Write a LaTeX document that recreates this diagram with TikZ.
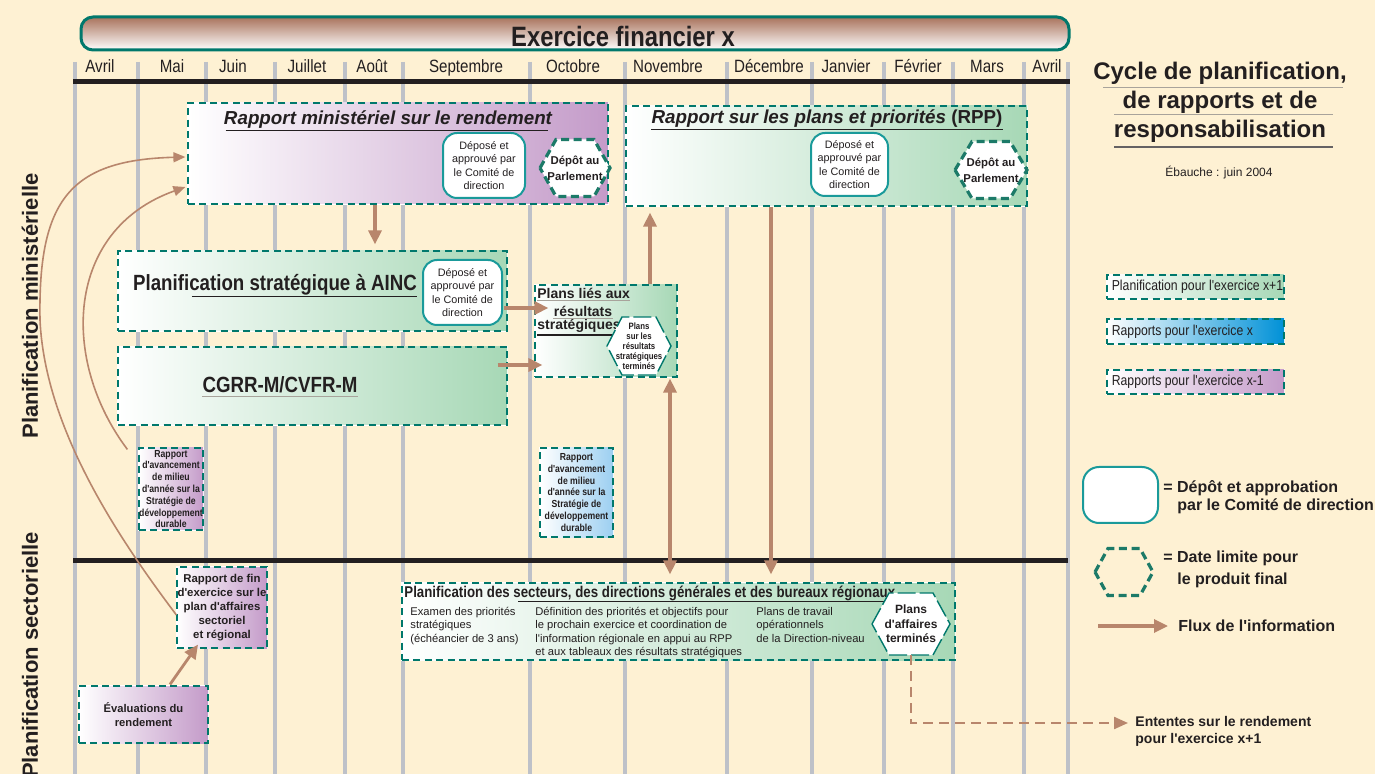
\documentclass[tikz,border=0pt]{standalone}
\usepackage{fontspec}
\setmainfont{Liberation Sans}[Ligatures=TeXOff]
\newfontfamily\cnd{Liberation Sans}[FakeStretch=0.85,Ligatures=TeXOff]
\usetikzlibrary{arrows.meta,calc}

\definecolor{bg}{HTML}{FEF1D3}
\definecolor{gridc}{HTML}{BEC1C8}
\definecolor{ink}{HTML}{231F20}
\definecolor{tealT}{HTML}{00786C}
\definecolor{tealR}{HTML}{1A9A9A}
\definecolor{tealH}{HTML}{1C7A68}
\definecolor{purp}{HTML}{C49BC9}
\definecolor{grn}{HTML}{A7D8B6}
\definecolor{lblue}{HTML}{9CCFF1}
\definecolor{sblue}{HTML}{0091D7}
\definecolor{brn}{HTML}{B8866C}
\definecolor{barbrn}{HTML}{A9735C}
\definecolor{ulgrey}{HTML}{A8A39B}

\newcommand\fs[2]{\fontsize{#1}{#2}\selectfont}
% flat-topped hexagon: style, centre, half width, half height, half width of top edge
\newcommand\hexpath[5]{%
  \path[#1] ($(#2)+(-#3,0)$) -- ($(#2)+(-#5,-#4)$) -- ($(#2)+(#5,-#4)$)
    -- ($(#2)+(#3,0)$) -- ($(#2)+(#5,#4)$) -- ($(#2)+(-#5,#4)$) -- cycle;}

\tikzset{
  gridline/.style={draw=gridc, line width=2.3pt},
  blackrule/.style={draw=ink, line width=2.5pt},
  dbox/.style={draw=tealT, line width=0.6pt, dash pattern=on 3.5pt off 2.2pt,
    preaction={draw=white, solid, line width=0.6pt}},
  boxP/.style={dbox, left color=white, right color=purp},
  boxG/.style={dbox, left color=white, right color=grn},
  boxB/.style={dbox, left color=white, right color=lblue},
  boxS/.style={dbox, left color=white, right color=sblue},
  depbox/.style={draw=tealR, line width=1pt, fill=white, rounded corners=7pt,
    align=center, font=\fs{5.4}{6.7}},
  hexA/.style={draw=tealH, line width=1.6pt, dash pattern=on 4pt off 2.3pt, fill=white},
  hexB/.style={draw=tealT, line width=0.7pt, dash pattern=on 9pt off 2pt, fill=white},
  flow/.style={draw=brn, line width=1.6pt, -{Triangle[length=7pt,width=6.5pt]}},
  flowthin/.style={draw=brn, line width=0.8pt, -{Triangle[length=6pt,width=5pt]}},
  flowdash/.style={draw=brn, line width=1.1pt, dash pattern=on 5pt off 3pt,
    -{Triangle[length=7pt,width=6pt]}},
  ulD/.style={draw=ink, line width=0.6pt},
  ulL/.style={draw=ulgrey, line width=0.5pt},
  month/.style={font=\cnd\fs{8.9}{10}, anchor=base},
}

\begin{document}
\begin{tikzpicture}[x=0.5pt,y=-0.5pt,every node/.style={inner sep=0pt, text=ink}]
\fill[bg] (0,0) rectangle (1375,774);
\useasboundingbox (0,0) rectangle (1375,774);

% month separators and the two rules
\foreach \gx in {75,138,206,275,345,403,530,625,727,812,884,953,1024,1068}
  \draw[gridline] (\gx,62) -- (\gx,774);
\draw[blackrule] (73,82) -- (1070,82);
\draw[blackrule] (73,560) -- (1068,560);

% fiscal year bar
\node[draw=tealT, line width=1.5pt, rounded corners=6pt, top color=barbrn, bottom color=white,
  minimum width=494pt, minimum height=16.5pt] (fy) at (575,33.5) {};
\node[font=\cnd\bfseries\fs{14}{16}] (fyt) at (623,37) {Exercice financier x};

% months
\foreach \mx/\mn in {100/Avril,172/Mai,233/Juin,307/Juillet,372/Août,466/Septembre,
  573/Octobre,668/Novembre,769/Décembre,846/Janvier,918/Février,987/Mars,1047/Avril}
  \node[month] (m\mx) at (\mx,73) {\mn};

% heading on the right
\node[font=\bfseries\fs{12}{14}] (ttl1) at (1220,73) {Cycle de planification,};
\node[font=\bfseries\fs{12}{14}] (ttl2) at (1220,102) {de rapports et de};
\node[font=\bfseries\fs{12}{14}] (ttl3) at (1220,131) {responsabilisation};
\draw[ulL] (1103,88) -- (1343,88);
\draw[ulL] (1114,115) -- (1333,115);
\draw[draw=ink!70, line width=1pt] (1114,147) -- (1333,147);
\node[font=\fs{6}{7}] (ebau) at (1219,173) {Ébauche : juin 2004};

% side labels
\node[rotate=90, font=\bfseries\fs{11}{13}] (lblM) at (30,306) {Planification ministérielle};
\node[rotate=90, font=\bfseries\fs{11}{13}] (lblS) at (30,655) {Planification sectorielle};

% Rapport ministériel sur le rendement
\node[boxP, minimum width=210pt, minimum height=50.5pt] (RMR) at (398,153.5) {};
\node[font=\bfseries\itshape\fs{9.4}{11}] (RMRt) at (388,120) {Rapport ministériel sur le rendement};
\draw[ulD] ($(RMRt.south west)+(2,1)$) -- ($(RMRt.south east)+(-4,1)$);
\node[depbox, minimum width=41pt, minimum height=32.5pt] (dep1) at (484,165.5)
  {Déposé et\\approuvé par\\le Comité de\\direction};
\coordinate (h1c) at (575,168);
\hexpath{hexA}{h1c}{35}{28.5}{19}
\node[font=\bfseries\fs{5.7}{8}, align=center, minimum width=35pt, minimum height=28.5pt] (h1) at (h1c)
  {Dépôt au\\Parlement};

% Rapport sur les plans et priorités
\node[boxG, minimum width=200.5pt, minimum height=50pt] (RPP) at (826.5,156) {};
\node[font=\bfseries\fs{9.4}{11}] (RPPt) at (827,119) {{\itshape Rapport sur les plans et priorités} (RPP)};
\draw[ulD] ($(RPPt.south west)+(0,1)$) -- ($(RPPt.south east)+(0,1)$);
\node[depbox, minimum width=38.5pt, minimum height=31.5pt] (dep2) at (849.5,164.5)
  {Déposé et\\approuvé par\\le Comité de\\direction};
\coordinate (h2c) at (991,170);
\hexpath{hexA}{h2c}{36}{28.5}{19}
\node[font=\bfseries\fs{5.7}{8}, align=center, minimum width=36pt, minimum height=28.5pt] (h2) at (h2c)
  {Dépôt au\\Parlement};

% Planification stratégique
\node[boxG, minimum width=194.5pt, minimum height=40pt] (PS) at (312.5,291) {};
\node[font=\cnd\bfseries\fs{11}{13}] (PSt) at (275,285) {Planification stratégique à AINC};
\draw[ulD] ($(PSt.south west)+(59,1)$) -- ($(PSt.south east)+(0,1)$);
\node[depbox, minimum width=39.5pt, minimum height=32.5pt] (dep3) at (462.5,292.5)
  {Déposé et\\approuvé par\\le Comité de\\direction};

% CGRR-M/CVFR-M
\node[boxG, minimum width=194.5pt, minimum height=39pt] (CG) at (312.5,386) {};
\node[font=\cnd\bfseries\fs{11}{13}] (CGt) at (280,385) {CGRR-M/CVFR-M};
\draw[ulL] ($(CGt.south west)+(0,3)$) -- ($(CGt.south east)+(0,3)$);

% Plans liés aux résultats stratégiques
\node[boxG, minimum width=71pt, minimum height=46pt] (PL) at (606,331) {};
\node[anchor=west, font=\bfseries\fs{7}{8}] (PLa) at (537,293) {Plans liés aux};
\node[font=\bfseries\fs{7}{8}] (PLb) at (583,311) {résultats};
\node[anchor=west, font=\bfseries\fs{7}{8}] (PLc) at (537,326) {stratégiques};
\draw[ulL] ($(PLa.south west)+(0,2)$) -- ($(PLa.south east)+(0,2)$);
\draw[ulL] ($(PLb.south west)+(0,2)$) -- ($(PLb.south east)+(0,2)$);
\draw[ulD] ($(PLc.south west)+(0,2)$) -- ($(PLc.south east)+(0,2)$);
\coordinate (h3c) at (639,346);
\hexpath{hexB}{h3c}{32}{29}{17}
\node[font=\cnd\bfseries\fs{4.6}{5}, align=center, minimum width=32pt, minimum height=29pt] (h3) at (h3c)
  {Plans\\sur les\\résultats\\stratégiques\\terminés};

% mid-year reports
\node[boxP, minimum width=32pt, minimum height=41pt, align=center, font=\cnd\bfseries\fs{5.1}{5.9}] (RA1)
  at (171,489) {Rapport\\d'avancement\\de milieu\\d'année sur la\\Stratégie de\\développement\\durable};
\node[boxB, minimum width=36.5pt, minimum height=44.5pt, align=center, font=\cnd\bfseries\fs{5.1}{5.9}] (RA2)
  at (576.5,492.5) {Rapport\\d'avancement\\de milieu\\d'année sur la\\Stratégie de\\développement\\durable};

% sector level
\node[boxP, minimum width=45pt, minimum height=40.5pt, align=center, font=\bfseries\fs{5.7}{7}] (RF)
  at (222,607.5) {Rapport de fin\\d'exercice sur le\\plan d'affaires\\sectoriel\\ et régional};
\node[boxP, minimum width=64.5pt, minimum height=28.5pt, align=center, font=\bfseries\fs{5.6}{6.7}] (EV)
  at (143.5,714.5) {Évaluations du\\rendement};

\node[boxG, minimum width=276.5pt, minimum height=38.5pt] (SB) at (678.5,621.5) {};
\node[anchor=west, font=\cnd\bfseries\fs{7.8}{9}] (SBt) at (404,593)
  {Planification des secteurs, des directions générales et des bureaux régionaux};
\draw[ulD] ($(SBt.south west)+(114,1)$) -- ($(SBt.south east)+(-2,1)$);
\node[anchor=north west, align=left, font=\fs{5.6}{6.65}] (SBc1) at (410,607)
  {Examen des priorités\\stratégiques\\(échéancier de 3 ans)};
\node[anchor=north west, align=left, font=\fs{5.6}{6.65}] (SBc2) at (535,607)
  {Définition des priorités et objectifs pour\\le prochain exercice et coordination de\\l'information régionale en appui au RPP\\et aux tableaux des résultats stratégiques};
\node[anchor=north west, align=left, font=\fs{5.6}{6.65}] (SBc3) at (756,607)
  {Plans de travail\\opérationnels\\de la Direction-niveau};
\coordinate (h4c) at (911,624);
\hexpath{hexB}{h4c}{39}{31}{22}
\node[font=\bfseries\fs{6}{7.2}, align=center, minimum width=39pt, minimum height=31pt] (h4) at (h4c)
  {Plans\\d'affaires\\terminés};

\node[anchor=west, align=left, font=\bfseries\fs{7}{8.5}] (ent) at (1135,731)
  {Ententes sur le rendement\\pour l'exercice x+1};

% legend
\node[boxG, minimum width=88.5pt, minimum height=12pt] (LG1) at (1195.5,287) {};
\node[anchor=west, font=\cnd\fs{7.2}{8}] (LG1t) at ($(LG1.west)+(5,0)$) {Planification pour l'exercice x+1};
\node[boxS, minimum width=88.5pt, minimum height=12.5pt] (LG2) at (1195.5,331.5) {};
\node[anchor=west, font=\cnd\fs{7.2}{8}] (LG2t) at ($(LG2.west)+(5,0)$) {Rapports pour l'exercice x};
\node[boxP, minimum width=88.5pt, minimum height=12pt] (LG3) at (1195.5,382) {};
\node[anchor=west, font=\cnd\fs{7.2}{8}] (LG3t) at ($(LG3.west)+(5,0)$) {Rapports pour l'exercice x-1};

\node[draw=tealR, line width=1pt, fill=white, rounded corners=8pt,
  minimum width=37.5pt, minimum height=28pt] (LR) at (1120.5,495) {};
\node[anchor=west, font=\bfseries\fs{8}{9.5}] (LRa) at (1163,488) {= Dépôt et approbation};
\node[anchor=west, font=\bfseries\fs{8}{9.5}] (LRb) at (1177,506) {par le Comité de direction};
\coordinate (LHc) at (1124,572);
\hexpath{hexA,fill=bg}{LHc}{29}{23.5}{16}
\node[minimum width=29pt, minimum height=23.5pt] (LH) at (LHc) {};
\node[anchor=west, font=\bfseries\fs{8}{9.5}] (LHa) at (1163,558) {= Date limite pour};
\node[anchor=west, font=\bfseries\fs{8}{9.5}] (LHb) at (1177,580) {le produit final};
\node[anchor=west, font=\bfseries\fs{8}{9.5}] (flux) at (1178,626) {Flux de l'information};
\coordinate (LAs) at (1098,626);
\draw[flow] (LAs) -- ($(flux.west)+(-10,0)$);

% information flow
\draw[flow] ($(RMR.south)+(-23,0)$) -- ($(PS.north)+(62.5,-6)$);
\draw[flow] ($(dep3.east)+(1,15.5)$) -- ($(PL.west)+(14,-23)$);
\draw[flow] ($(CG.east)+(-10,-21)$) -- ($(PL.west)+(8,34)$);
\draw[flow] ($(PL.north)+(44,0)$) -- ($(RPP.south)+(-176.5,6)$);
\draw[flow] ($(RPP.south)+(-55.5,0)$) -- ($(SB.north)+(92.5,-8)$);
\draw[flow, {Triangle[length=7pt,width=6.5pt]}-{Triangle[length=7pt,width=6.5pt]}]
  ($(PL.south)+(64,1)$) -- ($(SB.north)+(-8.5,-8)$);
\draw[flowthin] ($(RA1.north west)+(-11,2)$) .. controls (60,360) and (65,230) .. ($(RMR.west)+(-2,33.5)$);
\coordinate (bendL) at (40,320);
\draw[flowthin] ($(RF.west)+(0,7.5)$) .. controls (120,540) and (45,430) .. (bendL)
  .. controls (38,200) and (70,160) .. ($(RMR.west)+(-2,3.5)$);
\draw[flow, line width=1.4pt] ($(EV.north)+(26.5,-1)$) -- ($(RF.south)+(-24,-4)$);
\draw[flowdash] (h4.south) |- ($(ent.west)+(-7,-8)$);
\end{tikzpicture}
\end{document}
